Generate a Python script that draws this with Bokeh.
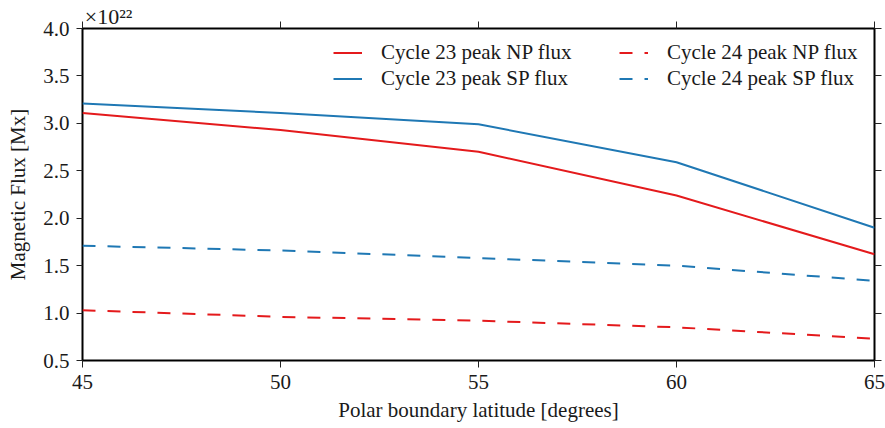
from bokeh.plotting import figure
from bokeh.models import (LinearAxis, FixedTicker, Legend, LegendItem,
                          NumeralTickFormatter, Range1d, CustomLabelingPolicy,
                          CustomJSTickFormatter)
from bokeh.embed import file_html
from bokeh.resources import INLINE

# ---- data (flux in units of 1e22 Mx) ----
latitude = [45, 50, 55, 60, 65]
c23_np = [3.11, 2.93, 2.70, 2.24, 1.62]
c23_sp = [3.21, 3.11, 2.99, 2.59, 1.90]
c24_np = [1.03, 0.96, 0.92, 0.85, 0.73]
c24_sp = [1.71, 1.66, 1.58, 1.50, 1.34]
x_ticks = [45, 50, 55, 60, 65]
y_ticks = [0.5, 1.0, 1.5, 2.0, 2.5, 3.0, 3.5, 4.0]
labels = ["Cycle 23 peak NP flux", "Cycle 23 peak SP flux",
          "Cycle 24 peak NP flux", "Cycle 24 peak SP flux"]
multiplier = "×10²²"
multiplier_pos = 45.66

RED = "#e41a1c"
BLUE = "#1f78b4"
FONT = "Liberation Serif"
FS = "21px"
TXT = "#1a1a1a"

p = figure(width=885, height=428, output_backend="svg", toolbar_location=None,
           x_range=Range1d(45, 65), y_range=Range1d(0.5, 4.0),
           min_border_left=82, min_border_right=8, min_border_top=28,
           min_border_bottom=68)
p.xgrid.visible = False
p.ygrid.visible = False
p.outline_line_color = "black"
p.outline_line_width = 2
p.outline_line_alpha = 1.0

r1 = p.line(latitude, c23_np, line_color=RED, line_width=2)
r2 = p.line(latitude, c23_sp, line_color=BLUE, line_width=2)
r3 = p.line(latitude, c24_np, line_color=RED, line_width=2, line_dash="13 12")
r4 = p.line(latitude, c24_sp, line_color=BLUE, line_width=2, line_dash="13 12")

hide_all = CustomLabelingPolicy(code="""
    const all = [...indices]
    for (const i of all) indices.unset(i)
    return indices
""")

def style_axis(ax, show_labels=True):
    ax.axis_line_color = None
    ax.major_tick_line_color = "#222222"
    ax.major_tick_line_width = 1
    ax.major_tick_in = 0
    ax.major_tick_out = 7
    ax.minor_tick_line_color = None
    ax.major_label_text_font = FONT
    ax.major_label_text_font_size = FS if show_labels else "1px"
    ax.major_label_text_color = TXT
    ax.axis_label_text_font = FONT
    ax.axis_label_text_font_size = FS
    ax.axis_label_text_font_style = "normal"
    ax.axis_label_text_color = TXT
    if not show_labels:
        ax.major_label_policy = hide_all
        ax.major_label_standoff = 0

xa = p.xaxis[0]
xa.ticker = FixedTicker(ticks=x_ticks)
xa.axis_label = "Polar boundary latitude [degrees]"
style_axis(xa)
xa.major_label_standoff = 7
xa.axis_label_standoff = 6

ya = p.yaxis[0]
ya.ticker = FixedTicker(ticks=y_ticks)
ya.formatter = NumeralTickFormatter(format="0.0")
ya.axis_label = "Magnetic Flux [Mx]"
style_axis(ya)
ya.major_tick_out = 6
ya.major_label_standoff = 7
ya.axis_label_standoff = 10

# top axis: ticks at x_ticks (drawn as minor ticks) + the x10^22 multiplier as its only label
top = LinearAxis(ticker=FixedTicker(ticks=[multiplier_pos], minor_ticks=x_ticks),
                 formatter=CustomJSTickFormatter(code="return '%s'" % multiplier))
top.axis_line_color = None
top.major_tick_line_color = None
top.major_tick_in = 0
top.major_tick_out = 0
top.minor_tick_line_color = "#222222"
top.minor_tick_line_width = 1
top.minor_tick_in = 0
top.minor_tick_out = 7
top.major_label_text_font = FONT
top.major_label_text_font_size = "22px"
top.major_label_text_color = TXT
top.major_label_standoff = -7
p.add_layout(top, "above")

right = LinearAxis(ticker=FixedTicker(ticks=y_ticks))
style_axis(right, show_labels=False)
p.add_layout(right, "right")

def make_legend(items, loc):
    lg = Legend(items=items, location=loc, orientation="vertical")
    lg.border_line_alpha = 0
    lg.background_fill_alpha = 0
    lg.padding = 0
    lg.margin = 0
    lg.spacing = 1
    lg.glyph_width = 29
    lg.glyph_height = 21
    lg.label_height = 21
    lg.label_standoff = 19
    lg.label_text_font = FONT
    lg.label_text_font_size = FS
    lg.label_text_color = TXT
    return lg

leg1 = make_legend([LegendItem(label=labels[0], renderers=[r1]),
                    LegendItem(label=labels[1], renderers=[r2])], (251, 269))
leg2 = make_legend([LegendItem(label=labels[2], renderers=[r3]),
                    LegendItem(label=labels[3], renderers=[r4])], (537, 269))
p.add_layout(leg1)
p.add_layout(leg2)

open("out.html", "w").write(file_html(p, INLINE))
